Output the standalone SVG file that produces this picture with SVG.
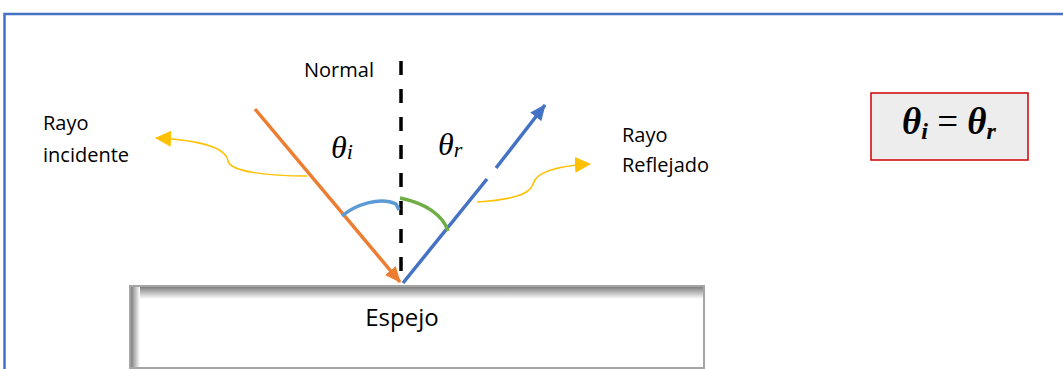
<svg xmlns="http://www.w3.org/2000/svg" width="1063" height="369" viewBox="0 0 1063 369">
<defs>
<style>
.lbl{font-family:"Open Sans","Liberation Sans",sans-serif;font-size:20px;fill:#000}
.math{font-family:"Liberation Serif","DejaVu Serif",serif;font-style:italic;fill:#000}
.yel{fill:none;stroke:#FFC000;stroke-width:1.5}
</style>
<marker id="ao" markerUnits="userSpaceOnUse" viewBox="0 0 16 14" refX="15" refY="7" markerWidth="16" markerHeight="14" orient="auto"><path d="M0,0 L16,7 L0,14 Z" fill="#ED7D31"/></marker>
<marker id="ab" markerUnits="userSpaceOnUse" viewBox="0 0 16 14" refX="15" refY="7" markerWidth="16" markerHeight="14" orient="auto"><path d="M0,0 L16,7 L0,14 Z" fill="#4472C4"/></marker>
<marker id="ay" markerUnits="userSpaceOnUse" viewBox="0 0 16 16" refX="15" refY="8" markerWidth="16" markerHeight="16" orient="auto"><path d="M0,0 L16,8 L0,16 Z" fill="#FFC000"/></marker>
<linearGradient id="gt" x1="0" y1="0" x2="0" y2="1"><stop offset="0" stop-color="#7f7f7f"/><stop offset="1" stop-color="#ffffff"/></linearGradient>
<linearGradient id="gl" x1="0" y1="0" x2="1" y2="0"><stop offset="0" stop-color="#7f7f7f"/><stop offset="1" stop-color="#ffffff"/></linearGradient>
</defs>
<rect width="1063" height="369" fill="#ffffff"/>
<g id="frame">
<path d="M4.5,369 V14 H1063" fill="none" stroke="#4472C4" stroke-width="2.5"/>
</g>
<g id="mirror">
<rect x="130" y="286" width="574" height="82" fill="#ffffff" stroke="#A5A5A5" stroke-width="2"/>
<rect x="131" y="287" width="572" height="12" fill="url(#gt)"/>
<rect x="131" y="287" width="9" height="80" fill="url(#gl)"/>
<text class="lbl" x="402" y="326" text-anchor="middle" style="font-size:24px">Espejo</text>
</g>
<g id="normal">
<line x1="401" y1="61" x2="401" y2="282" stroke="#000" stroke-width="3.5" stroke-dasharray="14 14"/>
<text class="lbl" x="304" y="77">Normal</text>
</g>
<g id="connectors">
<line id="incident" x1="255" y1="109" x2="400" y2="282" stroke="#ED7D31" stroke-width="3.5" marker-end="url(#ao)"/>
<line x1="403" y1="283" x2="487" y2="179" stroke="#4472C4" stroke-width="3.5"/>
<line id="reflected" x1="496" y1="168" x2="545" y2="105" stroke="#4472C4" stroke-width="3.5" marker-end="url(#ab)"/>
<path class="yel" d="M307,176 C270,176 230,172 228,161 C226,148 200,140 156,138" marker-end="url(#ay)"/>
<path class="yel" d="M477,202 C510,200 530,195 533,184 C536,172 555,166 590,164" marker-end="url(#ay)"/>
<path d="M342,216 C355,205 380,196 396,204 L399,210" fill="none" stroke="#5B9BD5" stroke-width="3.5"/>
<path d="M400,198 C425,203 443,215 448,231" fill="none" stroke="#70AD47" stroke-width="3.5"/>
</g>
<g id="theta-i">
<text class="math" x="331" y="158" style="font-size:32px">θ<tspan font-size="22" dy="1">i</tspan></text>
</g>
<g id="theta-r">
<text class="math" x="438" y="155" style="font-size:32px">θ<tspan font-size="22" dy="2">r</tspan></text>
</g>
<g id="label-incidente">
<text class="lbl" x="43" y="130">Rayo</text>
<text class="lbl" x="43" y="162">incidente</text>
</g>
<g id="label-reflejado">
<text class="lbl" x="622" y="142">Rayo</text>
<text class="lbl" x="622" y="172">Reflejado</text>
</g>
<g id="formula">
<rect x="871" y="93" width="157" height="67" fill="#EDEDED" stroke="#D00000" stroke-width="1.5"/>
<text class="math" x="949" y="134" text-anchor="middle" font-weight="bold" style="font-size:37px">θ<tspan font-size="24" dy="5">i</tspan><tspan dy="-5" font-style="normal" font-weight="normal"> = </tspan>θ<tspan font-size="24" dy="5">r</tspan></text>
</g>
</svg>
